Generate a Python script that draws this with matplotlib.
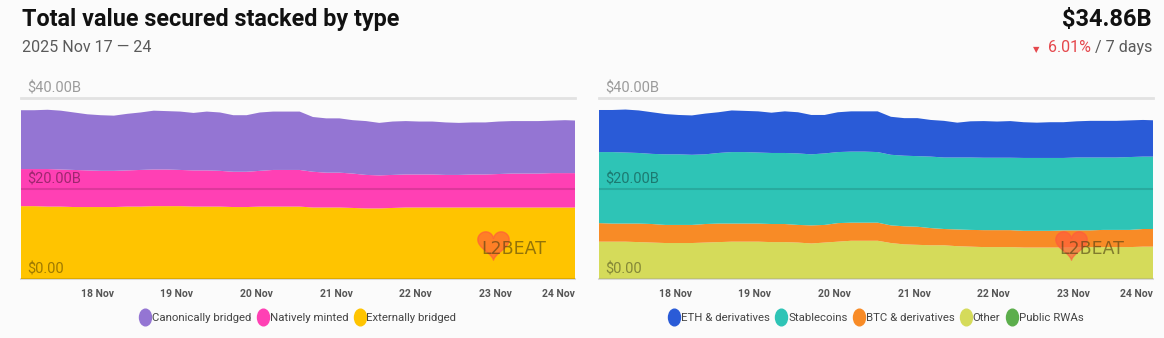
import numpy as np
import pandas as pd
import matplotlib
matplotlib.use('Agg')
import matplotlib.pyplot as plt
from matplotlib.lines import Line2D
from matplotlib.path import Path

plt.rcParams['font.family'] = ['Roboto', 'DejaVu Sans']

# 4-hourly samples, 2025-11-17 01:00 .. 2025-11-24 01:00 (values in $B)
dates = pd.date_range('2025-11-17 01:00', periods=43, freq='4h')

canonically_bridged = [13.0, 13.0, 13.1, 13.0, 12.7, 12.4, 12.3, 12.2, 12.5, 12.7,
                       13.0, 12.9, 12.9, 12.7, 13.0, 12.9, 12.5, 12.5, 12.9, 12.9,
                       12.9, 12.9, 12.1, 12.0, 12.0, 11.8, 11.9, 11.6, 11.8, 11.8,
                       11.7, 11.7, 11.6, 11.5, 11.5, 11.5, 11.6, 11.6, 11.6, 11.6,
                       11.6, 11.7, 11.6]
natively_minted = [8.2, 8.2, 8.3, 8.2, 8.2, 8.1, 8.0, 8.0, 8.0, 8.1,
                   8.1, 8.1, 8.0, 8.0, 8.0, 7.9, 7.8, 7.8, 7.9, 8.1,
                   8.1, 8.1, 7.9, 7.7, 7.7, 7.6, 7.4, 7.3, 7.3, 7.3,
                   7.3, 7.3, 7.2, 7.2, 7.3, 7.3, 7.4, 7.5, 7.5, 7.5,
                   7.6, 7.6, 7.6]
externally_bridged = [16.1, 16.1, 16.0, 16.0, 15.9, 15.9, 15.9, 15.9, 16.0, 16.0,
                      16.1, 16.1, 16.1, 16.0, 16.0, 16.0, 15.9, 15.9, 16.0, 16.0,
                      16.0, 16.0, 15.8, 15.8, 15.8, 15.7, 15.6, 15.6, 15.7, 15.8,
                      15.8, 15.8, 15.8, 15.8, 15.8, 15.8, 15.8, 15.8, 15.8, 15.8,
                      15.8, 15.8, 15.8]

eth = [9.3, 9.3, 9.5, 9.4, 9.2, 8.9, 8.7, 8.7, 9.0, 9.0,
       9.2, 9.1, 9.1, 8.9, 9.2, 9.1, 8.7, 8.5, 8.8, 8.9,
       8.9, 9.0, 8.4, 8.3, 8.4, 8.1, 8.1, 7.7, 8.0, 8.1,
       8.0, 8.1, 7.9, 7.8, 7.9, 7.9, 8.0, 8.1, 8.1, 8.1,
       8.1, 8.1, 8.0]
stablecoins = [15.7, 15.8, 15.7, 15.6, 15.5, 15.6, 15.6, 15.5, 15.4, 15.6,
               15.8, 15.8, 15.7, 15.7, 15.7, 15.8, 15.7, 15.8, 15.7, 15.7,
               15.7, 15.6, 15.6, 15.6, 15.6, 15.8, 15.8, 15.9, 16.0, 16.0,
               16.0, 16.0, 16.1, 16.1, 16.1, 16.0, 16.1, 16.1, 16.0, 16.0,
               16.1, 16.0, 16.0]
btc = [4.1, 4.0, 4.0, 4.1, 4.1, 4.0, 4.0, 4.0, 4.1, 4.1,
       4.0, 4.0, 4.0, 4.0, 4.0, 3.9, 4.0, 3.9, 4.1, 4.0,
       4.0, 4.0, 3.9, 4.0, 4.0, 3.8, 3.6, 3.7, 3.7, 3.75,
       3.75, 3.75, 3.7, 3.7, 3.7, 3.8, 3.7, 3.7, 3.8, 3.8,
       3.8, 3.9, 3.9]
other = [8.2, 8.2, 8.2, 8.1, 8.0, 7.9, 7.9, 7.9, 8.0, 8.1,
         8.2, 8.2, 8.2, 8.1, 8.1, 8.0, 7.8, 8.0, 8.2, 8.4,
         8.4, 8.4, 7.9, 7.6, 7.5, 7.4, 7.4, 7.2, 7.1, 7.0,
         7.0, 7.0, 6.9, 6.9, 6.9, 6.9, 7.0, 7.0, 7.0, 7.0,
         7.0, 7.1, 7.1]
public_rwas = [0.05] * 43

left_labels = ['Canonically bridged', 'Natively minted', 'Externally bridged']
left_colors = ['#9475d3', '#ff40b4', '#ffc400']
right_labels = ['ETH & derivatives', 'Stablecoins', 'BTC & derivatives', 'Other', 'Public RWAs']
right_colors = ['#2a5bd7', '#2ec4b6', '#f88b26', '#d5db5a', '#5cae4c']

tick_days = pd.date_range('2025-11-18', '2025-11-24', freq='D')
x_start = pd.Timestamp('2025-11-17 01:00')
x_end = pd.Timestamp('2025-11-24 00:00')

W, H = 1164, 338
bg = '#fbfbfb'
fig = plt.figure(figsize=(W / 100, H / 100), dpi=100, facecolor=bg)

circ = Path.unit_circle()
pill = Path(circ.vertices * [0.72, 1.0], circ.codes)
# heart shaped marker for the watermark
t = np.linspace(0, 2 * np.pi, 60)
heart = Path(np.column_stack([16 * np.sin(t) ** 3,
                              13 * np.cos(t) - 5 * np.cos(2 * t) - 2 * np.cos(3 * t) - np.cos(4 * t)]))


def make_panel(x0, series, stack_colors, labels, colors):
    ax = fig.add_axes([x0 / W, 1 - 279 / H, 554 / W, 181 / H], facecolor=bg)
    ax.stackplot(dates, *series, colors=stack_colors, linewidth=0)
    ax.set_xlim(x_start, x_end)
    ax.set_ylim(0, 40)
    for s in ax.spines.values():
        s.set_visible(False)
    ax.set_yticks([])
    ax.axhline(40, color='#e2e2e2', lw=2, zorder=3, clip_on=False)
    ax.axhline(20, color='black', alpha=0.13, lw=1.5, zorder=3)
    ax.axhline(0, color='black', alpha=0.13, lw=1.5, zorder=3, clip_on=False)
    for v, txt in [(40, '$40.00B'), (20, '$20.00B'), (0, '$0.00')]:
        ax.text(0.011, v + 1.2, txt, transform=ax.get_yaxis_transform(), fontsize=10.5,
                color='black', alpha=0.38, zorder=4)
    ax.set_xticks(tick_days)
    ax.set_xticklabels([d.strftime('%-d %b') for d in tick_days])
    ax.tick_params(axis='x', length=0, pad=7, labelsize=7.5, labelcolor='#555555')
    for lab in ax.get_xticklabels():
        lab.set_fontweight('bold')
    ax.get_xticklabels()[-1].set_ha('right')
    # L2BEAT watermark
    ax.plot([0.852], [0.2], transform=ax.transAxes, marker=heart, markersize=24,
            color='#ff5a3c', alpha=0.65, ls='none', zorder=4, clip_on=False)
    ax.text(0.89, 0.165, 'L2BEAT', transform=ax.transAxes, fontsize=12.5, color='#4a3d10',
            alpha=0.6, ha='center', va='center', family='DejaVu Sans', zorder=5)
    handles = [Line2D([], [], ls='none', marker=pill, markersize=12, color=c) for c in colors]
    ax.legend(handles, labels, loc='upper center', bbox_to_anchor=(0.5, -0.13), ncol=len(labels),
              frameon=False, fontsize=8.2, handletextpad=0.1, columnspacing=0.5,
              handlelength=1.0, labelcolor='#444444')
    return ax


make_panel(21, [externally_bridged, natively_minted, canonically_bridged],
           left_colors[::-1], left_labels, left_colors)
make_panel(599, [public_rwas, other, btc, stablecoins, eth],
           right_colors[::-1], right_labels, right_colors)

fig.text(22 / W, 1 - 8 / H, 'Total value secured stacked by type', fontsize=16.8,
         fontweight='bold', color='#111111', va='top')
fig.text(22 / W, 1 - 40 / H, '2025 Nov 17 \u2014 24', fontsize=11.5, color='#5a5a5a', va='top')
fig.text(1152 / W, 1 - 8 / H, '$34.86B', fontsize=17, fontweight='bold', color='#111111',
         va='top', ha='right')

fig.canvas.draw()
r = fig.canvas.get_renderer()
t1 = fig.text(1152 / W, 1 - 40 / H, '/ 7 days', fontsize=11.5, color='#5a5a5a', va='top', ha='right')
bb = t1.get_window_extent(renderer=r)
t2 = fig.text((bb.x0 - 4) / W, 1 - 40 / H, '6.01%', fontsize=11.5, color='#e5484d', va='top', ha='right')
bb2 = t2.get_window_extent(renderer=r)
fig.text((bb2.x0 - 8) / W, 1 - 45 / H, '\u25bc', fontsize=6, color='#e5484d', va='top',
         ha='right', family='DejaVu Sans')

fig.savefig('out.png', dpi=100, facecolor=bg)
